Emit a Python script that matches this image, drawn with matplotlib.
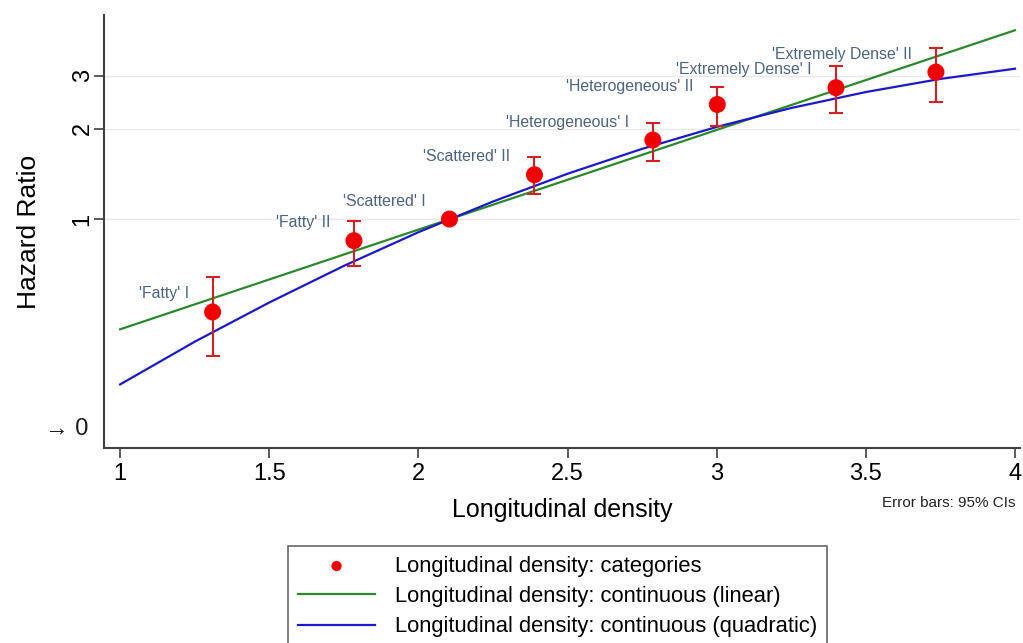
import matplotlib.pyplot as plt
import numpy as np

plt.rcParams['font.family'] = ['Liberation Sans', 'DejaVu Sans']

# category estimates (hazard ratio with 95% CI)
cat_labels = ["'Fatty' I", "'Fatty' II", "'Scattered' I", "'Scattered' II",
              "'Heterogeneous' I", "'Heterogeneous' II",
              "'Extremely Dense' I", "'Extremely Dense' II"]
cat_density = [1.31, 1.784, 2.104, 2.389, 2.786, 3.002, 3.40, 3.735]
cat_hr = [0.49, 0.847, 1.00, 1.405, 1.834, 2.41, 2.74, 3.09]
ci_low = [0.35, 0.70, 1.00, 1.21, 1.56, 2.046, 2.26, 2.45]
ci_high = [0.641, 0.985, 1.00, 1.613, 2.094, 2.76, 3.23, 3.71]

# continuous fits
lin_density = [1.0, 4.0]
lin_hr = [0.429, 4.26]

quad_density = [1.0, 1.25, 1.5, 1.75, 2.0, 2.25, 2.5, 2.75, 3.0, 3.25, 3.5, 3.75, 4.0]
quad_hr = [0.281, 0.390, 0.527, 0.698, 0.904, 1.144, 1.416, 1.714, 2.028, 2.346,
           2.651, 2.932, 3.171]

x_ticks = [1, 1.5, 2, 2.5, 3, 3.5, 4]
x_ticklabels = ['1', '1.5', '2', '2.5', '3', '3.5', '4']
y_ticks = [1, 2, 3]

fig = plt.figure(figsize=(10.23, 6.43), dpi=100)
ax = fig.add_axes([0.1017, 0.3033, 0.8954, 0.6734])
ax.set_yscale('log')

for y in y_ticks:
    ax.axhline(y, color='#e6eaee', lw=1.0, zorder=0)

lin_line, = ax.plot(lin_density, lin_hr, color='#2a8a2a', lw=1.6, zorder=2)
quad_line, = ax.plot(quad_density, quad_hr, color='#1a1acc', lw=1.6, zorder=2)

hr = np.array(cat_hr)
lo = np.array(ci_low)
hi = np.array(ci_high)
dx = np.array(cat_density)
has_ci = hi > lo
ax.errorbar(dx[has_ci], hr[has_ci], yerr=[hr[has_ci] - lo[has_ci], hi[has_ci] - hr[has_ci]],
            fmt='none', ecolor='#d42020', elinewidth=1.5, capsize=5, capthick=1.5, zorder=3)
pts = ax.scatter(cat_density, cat_hr, s=150, color='#f00000', edgecolors='none', zorder=4)

for lab, x, y in zip(cat_labels, cat_density, cat_hr):
    ax.annotate(lab, xy=(x, y), xytext=(-24, 18), textcoords='offset pixels',
                ha='right', va='center', fontsize=11.4, color='#4d6380')

ax.set_xlim(0.946, 4.017)
ax.set_ylim(0.1725, 4.79)
ax.set_xticks(x_ticks)
ax.set_xticklabels(x_ticklabels)
ax.set_yticks(y_ticks)
ax.set_yticklabels([str(v) for v in y_ticks], rotation=90, va='center')
ax.yaxis.set_minor_locator(plt.NullLocator())
ax.tick_params(axis='both', labelsize=17, length=7.5, width=1.2, color='#404040', pad=3)
ax.tick_params(axis='y', pad=0)

# broken-axis marker for zero
ax.annotate('\u2192 0', xy=(0, 0.2), xycoords=('axes fraction', 'data'),
            xytext=(-16, 0), textcoords='offset pixels', ha='right', va='center',
            fontsize=17, color='#1a1a1a')

for side in ['top', 'right']:
    ax.spines[side].set_visible(False)
for side in ['left', 'bottom']:
    ax.spines[side].set_color('#404040')
    ax.spines[side].set_linewidth(1.5)

ax.set_xlabel('Longitudinal density', fontsize=18, labelpad=10)
ax.set_ylabel('Hazard Ratio', fontsize=19, labelpad=22)

fig.text(0.993, 0.218, 'Error bars: 95% CIs', ha='right', va='center', fontsize=11,
         color='#222222')

leg = fig.legend([pts, lin_line, quad_line],
                 ['Longitudinal density: categories',
                  'Longitudinal density: continuous (linear)',
                  'Longitudinal density: continuous (quadratic)'],
                 loc='upper center', bbox_to_anchor=(0.545, 0.151), borderaxespad=0,
                 fontsize=15.8, frameon=True, fancybox=False, edgecolor='#404040',
                 borderpad=0.45, handlelength=3.5, handletextpad=0.9, labelspacing=0.42,
                 markerscale=0.6)
leg.get_frame().set_linewidth(1.2)

fig.savefig('out.png', dpi=100)
